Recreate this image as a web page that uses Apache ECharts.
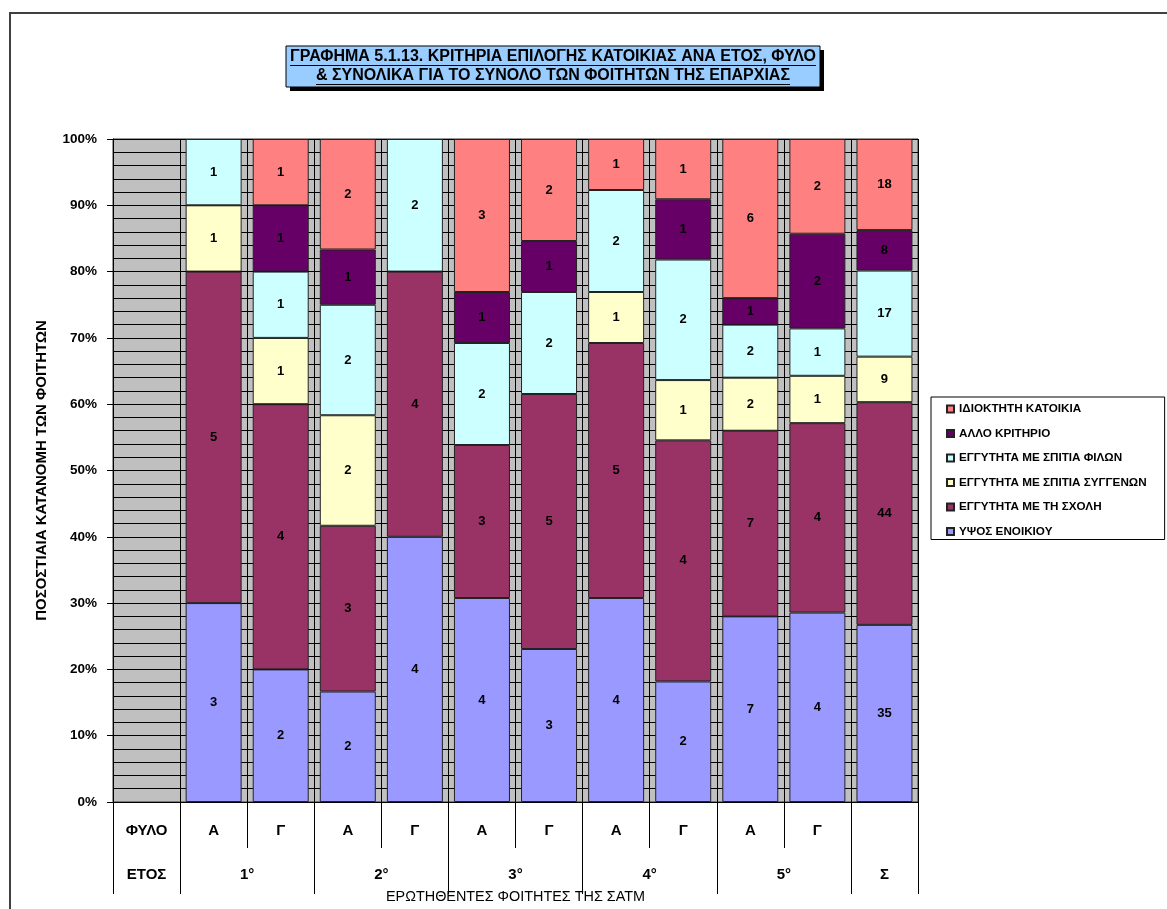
<!DOCTYPE html>
<html>
<head>
<meta charset="utf-8">
<script src="https://cdn.jsdelivr.net/npm/echarts@6/dist/echarts.min.js"></script>
<style>
html,body{margin:0;padding:0;background:#fff;overflow:hidden;}
#chart{width:1167px;height:909px;}
</style>
</head>
<body>
<div id="chart"></div>
<script>
// ---- DATA ----
const categories = ['', 'Α', 'Γ', 'Α', 'Γ', 'Α', 'Γ', 'Α', 'Γ', 'Α', 'Γ', ''];
const sexRowLabels = ['ΦΥΛΟ', 'Α', 'Γ', 'Α', 'Γ', 'Α', 'Γ', 'Α', 'Γ', 'Α', 'Γ', ''];
const yearLabels = ['ΕΤΟΣ', '1°', '2°', '3°', '4°', '5°', 'Σ'];
const yearLabelPos = [0.5, 2, 4, 6, 8, 10, 11.5];
const yearBoundaries = [0, 1, 3, 5, 7, 9, 11, 12];

const seriesNames = ['ΥΨΟΣ ΕΝΟΙΚΙΟΥ', 'ΕΓΓΥΤΗΤΑ ΜΕ ΤΗ ΣΧΟΛΗ', 'ΕΓΓΥΤΗΤΑ ΜΕ ΣΠΙΤΙΑ ΣΥΓΓΕΝΩΝ', 'ΕΓΓΥΤΗΤΑ ΜΕ ΣΠΙΤΙΑ ΦΙΛΩΝ', 'ΑΛΛΟ ΚΡΙΤΗΡΙΟ', 'ΙΔΙΟΚΤΗΤΗ ΚΑΤΟΙΚΙΑ'];
// counts per bar (first category is the empty label column)
const rentCounts      = [null, 3, 2, 2, 4, 4, 3, 4, 2, 7, 4, 35];
const schoolCounts    = [null, 5, 4, 3, 4, 3, 5, 5, 4, 7, 4, 44];
const relativesCounts = [null, 1, 1, 2, 0, 0, 0, 1, 1, 2, 1, 9];
const friendsCounts   = [null, 1, 1, 2, 2, 2, 2, 2, 2, 2, 1, 17];
const otherCounts     = [null, 0, 1, 1, 0, 1, 1, 0, 1, 1, 2, 8];
const ownCounts       = [null, 0, 1, 2, 0, 3, 2, 1, 1, 6, 2, 18];
const colors = ['#9999FF', '#993366', '#FFFFCC', '#CCFFFF', '#660066', '#FF8080'];

const titleLines = ['ΓΡΑΦΗΜΑ 5.1.13. ΚΡΙΤΗΡΙΑ ΕΠΙΛΟΓΗΣ ΚΑΤΟΙΚΙΑΣ ΑΝΑ ΕΤΟΣ, ΦΥΛΟ', '& ΣΥΝΟΛΙΚΑ ΓΙΑ ΤΟ ΣΥΝΟΛΟ ΤΩΝ ΦΟΙΤΗΤΩΝ ΤΗΣ ΕΠΑΡΧΙΑΣ'];
const yName = 'ΠΟΣΟΣΤΙΑΙΑ ΚΑΤΑΝΟΜΗ ΤΩΝ ΦΟΙΤΗΤΩΝ';
const xName = 'ΕΡΩΤΗΘΕΝΤΕΣ ΦΟΙΤΗΤΕΣ ΤΗΣ ΣΑΤΜ';

// ---- BUILD ----
const FONT = '"Liberation Sans Narrow", "Arial Narrow", "Liberation Sans", Arial, sans-serif';
const allCounts = [rentCounts, schoolCounts, relativesCounts, friendsCounts, otherCounts, ownCounts];
const totals = categories.map((c, i) => allCounts.reduce((s, a) => s + (a[i] || 0), 0));

const series = allCounts.map((arr, si) => ({
  name: seriesNames[si],
  type: 'bar',
  stack: 'total',
  barWidth: 56,
  data: arr.map((v, i) => (v ? v / totals[i] * 100 : '-')),
  itemStyle: { color: colors[si], borderColor: '#222', borderWidth: 1 },
  label: {
    show: true, position: 'inside', color: '#000',
    fontFamily: FONT, fontWeight: 'bold', fontSize: 13,
    formatter: p => String(arr[p.dataIndex])
  }
}));

// measure title text for underlines
const titleFontSize = 16;
const mctx = document.createElement('canvas').getContext('2d');
mctx.font = 'bold ' + titleFontSize + 'px ' + FONT;
const titleCx = 553;
const titleYs = [57, 76];
const titleGraphics = [];
titleLines.forEach((t, i) => {
  const w = mctx.measureText(t).width;
  titleGraphics.push({
    type: 'text', x: titleCx, y: titleYs[i], z: 10,
    style: { text: t, fill: '#000', font: 'bold ' + titleFontSize + 'px ' + FONT, textAlign: 'center', textVerticalAlign: 'middle' }
  });
  titleGraphics.push({
    type: 'line', z: 10,
    shape: { x1: titleCx - w / 2, y1: titleYs[i] + 8.5, x2: titleCx + w / 2, y2: titleYs[i] + 8.5 },
    style: { stroke: '#000', lineWidth: 1 }
  });
});

const option = {
  animation: false,
  backgroundColor: '#fff',
  textStyle: { fontFamily: FONT },
  graphic: [
    { type: 'rect', shape: { x: 10, y: 13, width: 1180, height: 920 }, style: { fill: 'none', stroke: '#404040', lineWidth: 2 }, z: 0 },
    { type: 'rect', shape: { x: 290, y: 50, width: 534, height: 41 }, style: { fill: '#000' }, z: 8 },
    { type: 'rect', shape: { x: 286, y: 46, width: 534, height: 41 }, style: { fill: '#99CCFF', stroke: '#000', lineWidth: 1 }, z: 9 },
    ...titleGraphics
  ],
  legend: {
    orient: 'vertical',
    left: 931, top: 397,
    data: seriesNames.slice().reverse(),
    itemWidth: 7, itemHeight: 7, itemGap: 10.5,
    padding: [5, 18, 1, 15],
    backgroundColor: '#fff', borderColor: '#000', borderWidth: 1,
    icon: 'rect',
    textStyle: { fontFamily: FONT, fontWeight: 'bold', fontSize: 11.7, color: '#000', lineHeight: 14 }
  },
  grid: {
    left: 113, right: 249, top: 139, bottom: 104,
    show: true, backgroundColor: '#C0C0C0', borderColor: '#333', borderWidth: 1
  },
  xAxis: [
    {
      type: 'category', data: sexRowLabels, position: 'bottom',
      axisLine: { show: true, lineStyle: { color: '#000' } },
      axisTick: { show: true, interval: 0, length: 46, lineStyle: { color: '#000' } },
      axisLabel: { interval: 0, margin: 21, fontFamily: FONT, fontWeight: 'bold', fontSize: 15, color: '#000' },
      splitLine: { show: true, interval: 0, lineStyle: { color: '#000', width: 1 } }
    },
    {
      type: 'value', min: 0, max: 12, position: 'bottom',
      axisLine: { show: false },
      splitLine: { show: false },
      axisTick: { show: true, length: 92, customValues: yearBoundaries, lineStyle: { color: '#000' } },
      axisLabel: {
        show: true, margin: 65, customValues: yearLabelPos,
        fontFamily: FONT, fontWeight: 'bold', fontSize: 15, color: '#000',
        formatter: v => { const k = yearLabelPos.indexOf(v); return k >= 0 ? yearLabels[k] : ''; }
      },
      name: xName, nameLocation: 'middle', nameGap: 88,
      nameTextStyle: { fontFamily: FONT, fontSize: 14.4, color: '#000' }
    }
  ],
  yAxis: {
    type: 'value', min: 0, max: 100, interval: 10,
    axisLine: { show: true, lineStyle: { color: '#000' } },
    axisTick: { show: true, length: 6, lineStyle: { color: '#000' } },
    axisLabel: { margin: 16, fontFamily: FONT, fontWeight: 'bold', fontSize: 13.5, color: '#000', formatter: v => v + '%' },
    splitLine: { show: true, lineStyle: { color: '#000', width: 1 } },
    minorTick: { show: false, splitNumber: 5 },
    minorSplitLine: { show: true, lineStyle: { color: '#000', width: 1 } },
    name: yName, nameLocation: 'middle', nameGap: 64, nameRotate: 90,
    nameTextStyle: { fontFamily: FONT, fontWeight: 'bold', fontSize: 15, color: '#000' }
  },
  series: series
};

const chart = echarts.init(document.getElementById('chart'), null, { renderer: 'canvas' });
chart.setOption(option);
</script>
</body>
</html>
